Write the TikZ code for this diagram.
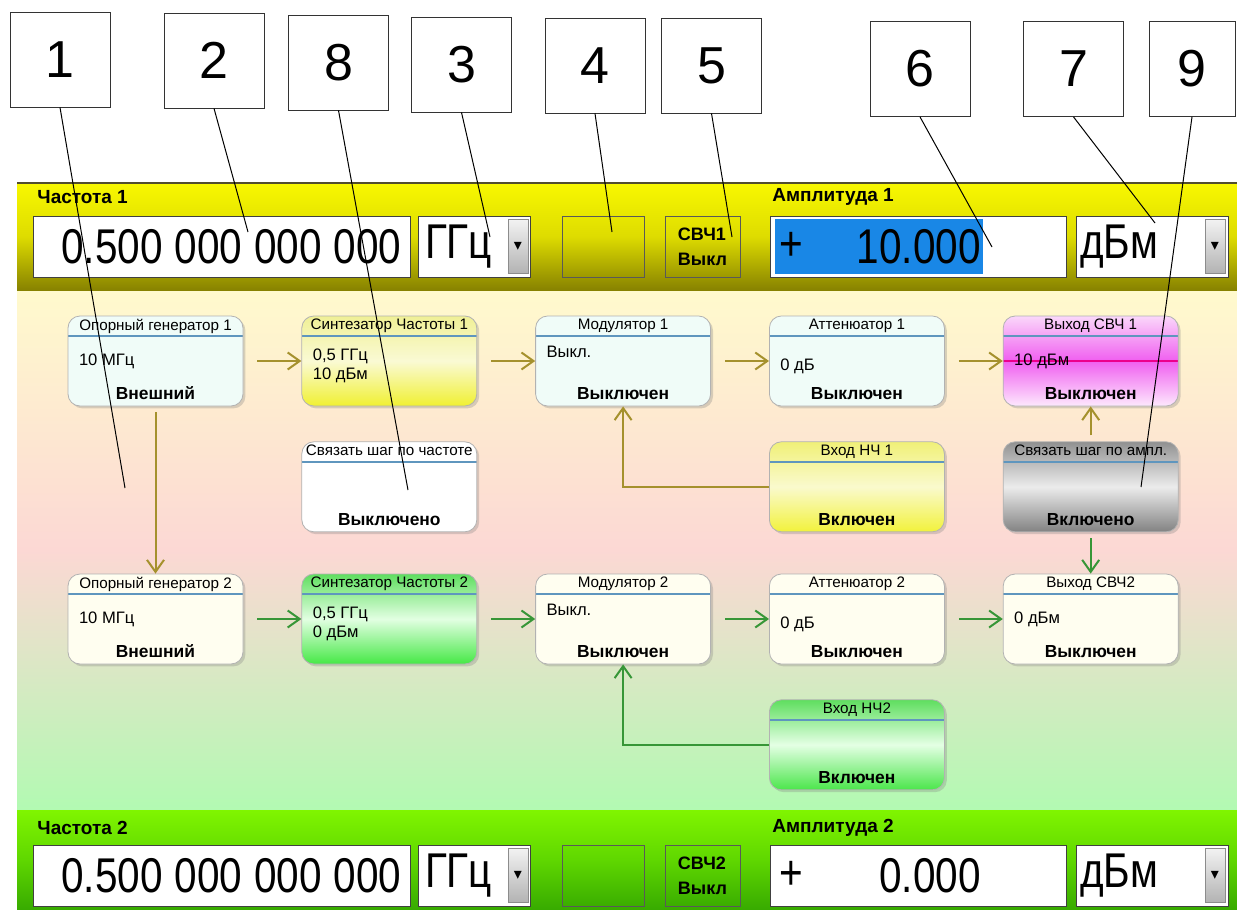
\documentclass[tikz,border=0pt]{standalone}
\usepackage{fontspec}
\setmainfont{Liberation Sans}
\newfontfamily\fieldfont[FakeStretch=0.83]{Liberation Sans}
\newfontfamily\symfont{DejaVu Sans}
\usetikzlibrary{positioning}
\usetikzlibrary{arrows.meta}
\usetikzlibrary{shadows}

\definecolor{rulecol}{RGB}{95,150,190}
\definecolor{flowup}{RGB}{165,145,45}
\definecolor{flowdn}{RGB}{55,150,55}
\definecolor{selblue}{RGB}{25,135,230}
\definecolor{paleup}{RGB}{240,252,248}
\definecolor{paledn}{RGB}{255,254,240}
\definecolor{bandya}{RGB}{248,248,0}
\definecolor{bandyb}{RGB}{222,220,0}
\definecolor{bandyc}{RGB}{135,130,0}
\definecolor{bandga}{RGB}{128,245,0}
\definecolor{bandgb}{RGB}{95,215,0}
\definecolor{bandgc}{RGB}{55,170,0}
\definecolor{areaa}{RGB}{255,250,205}
\definecolor{areab}{RGB}{252,216,212}
\definecolor{areac}{RGB}{178,250,178}

\begin{document}
\begin{tikzpicture}[x=0.5pt, y=-0.5pt, node distance=17.5pt and 29pt,
  tag/.style={draw=black!80, fill=white, minimum width=50pt, minimum height=47.5pt, inner sep=0pt, font=\fontsize{26}{26}\selectfont},
  lead/.style={draw=black, line width=0.5pt},
  block/.style={rectangle, rounded corners=6pt, draw=black!30, minimum width=87.5pt, minimum height=45pt, inner sep=0pt,
    drop shadow={opacity=0.3, shadow xshift=1.2pt, shadow yshift=-1.2pt},
    path picture={\draw[rulecol, line width=0.8pt] ([yshift=-10pt]path picture bounding box.north west) -- ([yshift=-10pt]path picture bounding box.north east);}},
  head/.style={anchor=north, yshift=-1.5pt, inner sep=0pt, font=\fontsize{7.6}{8}\selectfont},
  val/.style={anchor=west, xshift=5.5pt, inner sep=0pt, align=left, font=\fontsize{8.3}{9.5}\selectfont},
  state/.style={anchor=south, yshift=3pt, inner sep=0pt, font=\fontsize{8.7}{9}\selectfont\bfseries},
  flow/.style={-{Straight Barb[length=6pt, width=8.5pt]}, line width=1pt, shorten <=7pt},
  field/.style={draw=black!75, fill=white, minimum height=30.5pt, inner sep=0pt, font=\fieldfont\fontsize{24.4}{24}\selectfont},
  digits/.style={inner sep=0pt, font=\fieldfont\fontsize{24.4}{24}\selectfont},
  drop/.style={draw=black!45, top color=black!5, bottom color=black!30, minimum width=10pt, minimum height=27pt, inner sep=0pt, font=\symfont\fontsize{8}{8}\selectfont},
  lamp/.style={draw=black!65, minimum width=41pt, minimum height=30.5pt, inner sep=0pt},
  rfsw/.style={draw=black!65, minimum width=37.5pt, minimum height=30.5pt, inner sep=0pt, align=left, font=\fontsize{9}{12.5}\selectfont\bfseries},
  selbar/.style={fill=selblue, minimum width=104pt, minimum height=27.5pt, inner sep=0pt},
  lbl/.style={anchor=west, inner sep=0pt, font=\fontsize{9.5}{9.5}\selectfont\bfseries}]
\useasboundingbox (0,0) rectangle (1237,910);

% background
\shade[top color=areaa, bottom color=areac, middle color=areab] (17,290) rectangle (1237,810);
\shade[top color=bandya, bottom color=bandyc, middle color=bandyb] (17,183) rectangle (1237,290);
\draw[black!55!olive, line width=1pt] (17,183) -- (1237,183);
\shade[top color=bandga, bottom color=bandgc, middle color=bandgb] (17,810) rectangle (1237,910);

% callouts
\node[tag] (n1) at (60,59.5) {1};
\node[tag] (n2) at (214,60.5) {2};
\node[tag] (n8) at (338.5,62.5) {8};
\node[tag] (n3) at (461.5,64.5) {3};
\node[tag] (n4) at (595,65.5) {4};
\node[tag] (n5) at (711.5,65.5) {5};
\node[tag] (n6) at (920,69) {6};
\node[tag] (n7) at (1073.5,69) {7};
\node[tag, minimum width=43pt] (n9) at (1192,69) {9};

% channel 1 bar
\node[lbl] (fq1) at (37,197) {Частота 1};
\node[field, minimum width=188.5pt, text width=180pt, align=right] (fv1) at (221.5,246.5) {0.500\hspace{6pt}000\hspace{6pt}000\hspace{6pt}000};
\node[field, minimum width=56pt, text width=49pt, align=left] (fu1) at (474,246.5) {ГГц};
\node[drop] (fd1) at (518,246.5) {▾};
\node[lamp] (lp1) at (603,246.5) {};
\node[rfsw] (rf1) at (702.5,246.5) {СВЧ1\\Выкл};
\node[lbl] (am1) at (772,197) {Амплитуда 1};
\node[field, minimum width=148pt] (av1) at (918,246.5) {};
\node[selbar] (hl1) at (879,246.5) {};
\node[digits] (sg1) at (791,246.5) {+};
\node[digits, anchor=east] (ad1) at (981,246.5) {10.000};
\node[field, minimum width=76pt, text width=72pt, align=left] (au1) at (1152,246.5) {дБм};
\node[drop] (ab1) at (1215,246.5) {▾};

% channel 2 bar
\node[lbl] (fq2) at (37,828) {Частота 2};
\node[field, minimum width=188.5pt, text width=180pt, align=right] (fv2) at (221.5,875.5) {0.500\hspace{6pt}000\hspace{6pt}000\hspace{6pt}000};
\node[field, minimum width=56pt, text width=49pt, align=left] (fu2) at (474,875.5) {ГГц};
\node[drop] (fd2) at (518,875.5) {▾};
\node[lamp] (lp2) at (603,875.5) {};
\node[rfsw] (rf2) at (702.5,875.5) {СВЧ2\\Выкл};
\node[lbl] (am2) at (772,828) {Амплитуда 2};
\node[field, minimum width=148pt] (av2) at (918,875.5) {};
\node[digits] (sg2) at (791,875.5) {+};
\node[digits, anchor=east] (ad2) at (981,875.5) {0.000};
\node[field, minimum width=76pt, text width=72pt, align=left] (au2) at (1152,875.5) {дБм};
\node[drop] (ab2) at (1215,875.5) {▾};

% chain 1
\node[block, fill=paleup, label={[head]north:Опорный генератор 1}, label={[val]west:10 МГц}, label={[state]south:Внешний}] (gen1) at (155.5,361) {};
\node[block, right=of gen1, top color={rgb,255:red,240;green,240;blue,150}, bottom color={rgb,255:red,240;green,240;blue,50}, middle color={rgb,255:red,250;green,250;blue,212},
  label={[head]north:Синтезатор Частоты 1}, label={[val, yshift=-2.5pt]west:{0,5 ГГц\\10 дБм}}] (syn1) {};
\node[block, right=of syn1, fill=paleup, label={[head]north:Модулятор 1}, label={[val, yshift=4.5pt]west:Выкл.}, label={[state]south:Выключен}] (mod1) {};
\node[block, right=of mod1, fill=paleup, label={[head]north:Аттенюатор 1}, label={[val, yshift=-2.5pt]west:0 дБ}, label={[state]south:Выключен}] (att1) {};
\node[block, right=of att1, top color={rgb,255:red,250;green,215;blue,250}, bottom color={rgb,255:red,253;green,232;blue,253}, middle color={rgb,255:red,240;green,95;blue,240},
  path picture={\draw[rulecol, line width=0.8pt] ([yshift=-10pt]path picture bounding box.north west) -- ([yshift=-10pt]path picture bounding box.north east);
    \draw[magenta, line width=1pt] (path picture bounding box.west) -- (path picture bounding box.east);},
  label={[head]north:Выход СВЧ 1}, label={[val]west:10 дБм}, label={[state]south:Выключен}] (out1) {};

% middle row
\node[block, below=of syn1, fill=white, label={[head]north:Связать шаг по частоте}, label={[state]south:Выключено}] (linkf) {};
\node[block, below=of att1, top color={rgb,255:red,240;green,240;blue,120}, bottom color={rgb,255:red,242;green,242;blue,60}, middle color={rgb,255:red,250;green,250;blue,205},
  label={[head]north:Вход НЧ 1}, label={[state]south:Включен}] (lf1) {};
\node[block, below=of out1, top color={rgb,255:red,145;green,145;blue,145}, bottom color={rgb,255:red,130;green,130;blue,130}, middle color={rgb,255:red,236;green,236;blue,236},
  label={[head]north:Связать шаг по ампл.}, label={[state]south:Включено}] (linka) {};

% chain 2
\node[block, fill=paledn, label={[head]north:Опорный генератор 2}, label={[val]west:10 МГц}, label={[state]south:Внешний}] (gen2) at (155.5,619) {};
\node[block, right=of gen2, top color={rgb,255:red,95;green,222;blue,95}, bottom color={rgb,255:red,70;green,232;blue,70}, middle color={rgb,255:red,226;green,255;blue,226},
  label={[head]north:Синтезатор Частоты 2}, label={[val, yshift=-2.5pt]west:{0,5 ГГц\\0 дБм}}] (syn2) {};
\node[block, right=of syn2, fill=paledn, label={[head]north:Модулятор 2}, label={[val, yshift=4.5pt]west:Выкл.}, label={[state]south:Выключен}] (mod2) {};
\node[block, right=of mod2, fill=paledn, label={[head]north:Аттенюатор 2}, label={[val, yshift=-2.5pt]west:0 дБ}, label={[state]south:Выключен}] (att2) {};
\node[block, right=of att2, fill=paledn, label={[head]north:Выход СВЧ2}, label={[val]west:0 дБм}, label={[state]south:Выключен}] (out2) {};
\node[block, below=of att2, top color={rgb,255:red,95;green,222;blue,95}, bottom color={rgb,255:red,75;green,230;blue,75}, middle color={rgb,255:red,228;green,255;blue,228},
  label={[head]north:Вход НЧ2}, label={[state]south:Включен}] (lf2) {};

% signal flow
\draw[flow, flowup] (gen1) -- (syn1);
\draw[flow, flowup] (syn1) -- (mod1);
\draw[flow, flowup] (mod1) -- (att1);
\draw[flow, flowup] (att1) -- (out1);
\draw[flow, flowup, shorten <=3pt] (gen1) -- (gen2);
\draw[flow, flowup, shorten <=0pt] (lf1.west) -| (mod1.south);
\draw[flow, flowup, shorten <=3pt] (linka) -- (out1);
\draw[flow, flowdn, shorten <=3pt] (linka) -- (out2);
\draw[flow, flowdn] (gen2) -- (syn2);
\draw[flow, flowdn] (syn2) -- (mod2);
\draw[flow, flowdn] (mod2) -- (att2);
\draw[flow, flowdn] (att2) -- (out2);
\draw[flow, flowdn, shorten <=0pt] (lf2.west) -| (mod2.south);

% leaders
\coordinate (p1) at (125,488);
\coordinate (p2) at (248,232);
\coordinate (p8) at (408,490);
\coordinate (p3) at (490,237);
\coordinate (p4) at (612,232);
\coordinate (p5) at (732,237);
\coordinate (p6) at (992,247);
\coordinate (p7) at (1155,223);
\coordinate (p9) at (1141,487);
\draw[lead] (n1.south) -- (p1);
\draw[lead] (n2.south) -- (p2);
\draw[lead] (n8.south) -- (p8);
\draw[lead] (n3.south) -- (p3);
\draw[lead] (n4.south) -- (p4);
\draw[lead] (n5.south) -- (p5);
\draw[lead] (n6.south) -- (p6);
\draw[lead] (n7.south) -- (p7);
\draw[lead] (n9.south) -- (p9);
\end{tikzpicture}
\end{document}
